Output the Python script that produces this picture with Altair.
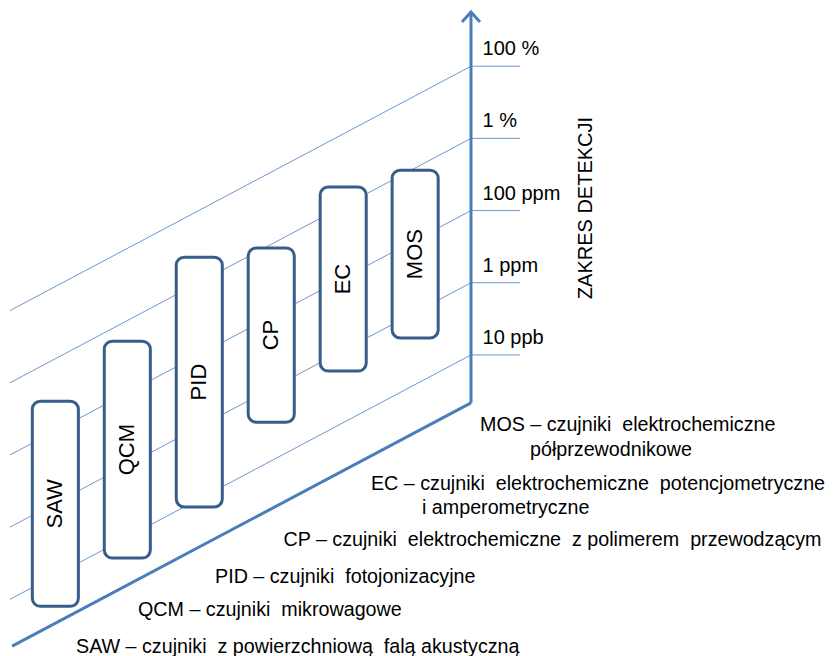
import altair as alt
import pandas as pd

# ---------------- data ----------------
sensors = ["SAW", "QCM", "PID", "CP", "EC", "MOS"]
sensor_order = [0, 1, 2, 3, 4, 5]
# detection range, log10 of volume fraction (10 ppb = -8 ... 100 % = 0)
range_low = [-8.86, -8.58, -8.22, -6.93, -6.57, -6.71]
range_high = [-3.18, -2.57, -1.30, -2.10, -1.47, -2.06]

level_values = [-8, -6, -4, -2, 0]
level_labels = ["10 ppb", "1 ppm", "100 ppm", "1 %", "100 %"]

axis_title = "ZAKRES DETEKCJI"

legend_texts = [
    "MOS – czujniki  elektrochemiczne",
    "półprzewodnikowe",
    "EC – czujniki  elektrochemiczne  potencjometryczne",
    "i amperometryczne",
    "CP – czujniki  elektrochemiczne  z polimerem  przewodzącym",
    "PID – czujniki  fotojonizacyjne",
    "QCM – czujniki  mikrowagowe",
    "SAW – czujniki  z powierzchniową  falą akustyczną",
]
# keep the double spaces visible in SVG
legend_texts = [t.replace("  ", "\u00a0 ") for t in legend_texts]

# ---------------- frame (layout constants) ----------------
X_BACK = 5.776      # depth position of the back wall (vertical axis)
X_FRONT = -0.63     # where the guide lines end at the front
X_FRONT_AXIS = -0.60
SKEW = 1.057        # decades of drop per unit of depth (oblique projection)
FLOOR = -9.33       # level of the floor line
TOP_LINE = 1.446
TOP_TIP = 1.502
TICK_END = 6.457
LABEL_X = 5.936
HALF_W = 0.32

legend_x = [5.901, 6.596, 4.386, 5.095, 3.170, 2.219, 1.149, 0.287]
legend_y = [-9.942, -10.634, -11.576, -12.241, -13.128, -14.153, -15.068, -16.093]

AXIS_BLUE = "#4a7ebb"
GRID_BLUE = "#6d97cf"
BOX_BLUE = "#385d8a"
FONT = "Liberation Sans"

xs = alt.Scale(domain=[-0.658, 10.737], nice=False, zero=False)
ys = alt.Scale(domain=[-16.342, 1.613], nice=False, zero=False)

def X(f):
    return alt.X(f, type="quantitative", scale=xs, axis=None)

def Y(f):
    return alt.Y(f, type="quantitative", scale=ys, axis=None)

levels = pd.DataFrame({"level": level_values, "label": level_labels})
boxes = pd.DataFrame({"sensor": sensors, "idx": sensor_order,
                      "low": range_low, "high": range_high})
legend = pd.DataFrame({"text": legend_texts, "lx": legend_x, "ly": legend_y})
single = pd.DataFrame({"k": [0]})

grid = alt.Chart(levels).transform_calculate(
    xa=f"{X_BACK}", xb=f"{X_FRONT}",
    ya="datum.level", yb=f"datum.level - {SKEW}*({X_BACK}-({X_FRONT}))",
).mark_rule(color=GRID_BLUE, strokeWidth=1).encode(
    x=X("xa:Q"), x2="xb:Q", y=Y("ya:Q"), y2="yb:Q")

ticks = alt.Chart(levels).transform_calculate(
    xa=f"{X_BACK}", xb=f"{TICK_END}",
).mark_rule(color=GRID_BLUE, strokeWidth=1).encode(
    x=X("xa:Q"), x2="xb:Q", y=Y("level:Q"))

tick_labels = alt.Chart(levels).transform_calculate(
    xa=f"{LABEL_X}",
).mark_text(align="left", baseline="middle", dy=-17, fontSize=20,
            font=FONT, color="#000000").encode(
    x=X("xa:Q"), y=Y("level:Q"), text="label:N")

floor_line = alt.Chart(single).transform_calculate(
    xa=f"{X_BACK}", xb=f"{X_FRONT_AXIS}",
    ya=f"{FLOOR}", yb=f"{FLOOR} - {SKEW}*({X_BACK}-({X_FRONT_AXIS}))",
).mark_rule(color=AXIS_BLUE, strokeWidth=3).encode(
    x=X("xa:Q"), x2="xb:Q", y=Y("ya:Q"), y2="yb:Q")

vert_line = alt.Chart(single).transform_calculate(
    xa=f"{X_BACK}", ya=f"{FLOOR}", yb=f"{TOP_LINE}",
).mark_rule(color=AXIS_BLUE, strokeWidth=3).encode(
    x=X("xa:Q"), y=Y("ya:Q"), y2="yb:Q")

arrow = alt.Chart(single).transform_calculate(
    xa=f"{X_BACK}", ya=f"{TOP_TIP}",
).mark_point(shape="M-1,1.1L0,0L1,1.1", filled=False, size=324,
             strokeWidth=3, color=AXIS_BLUE, opacity=1).encode(
    x=X("xa:Q"), y=Y("ya:Q"))

box_base = alt.Chart(boxes).transform_calculate(
    shift=f"{SKEW}*({X_BACK}-datum.idx)",
    xl=f"datum.idx - {HALF_W}", xr=f"datum.idx + {HALF_W}",
).transform_calculate(
    yb="datum.low - datum.shift", yt="datum.high - datum.shift",
).transform_calculate(
    yc="(datum.yb + datum.yt)/2",
)

rects = box_base.mark_rect(fill="white", stroke=BOX_BLUE, strokeWidth=3,
                           cornerRadius=8).encode(
    x=X("xl:Q"), x2="xr:Q", y=Y("yb:Q"), y2="yt:Q")

rect_labels = box_base.mark_text(angle=270, fontSize=22, font=FONT,
                                 color="#000000", baseline="middle",
                                 align="center").encode(
    x=X("idx:Q"), y=Y("yc:Q"), text="sensor:N")

title = alt.Chart(single).transform_calculate(
    xa="7.374", ya="-3.93", t=f"'{axis_title}'",
).mark_text(angle=270, fontSize=20, font=FONT, color="#000000",
            baseline="middle", align="center").encode(
    x=X("xa:Q"), y=Y("ya:Q"), text="t:N")

legend_text = alt.Chart(legend).mark_text(
    align="left", baseline="middle", fontSize=19.7, font=FONT,
    color="#000000").encode(x=X("lx:Q"), y=Y("ly:Q"), text="text:N")

chart = alt.layer(
    grid, ticks, floor_line, vert_line, arrow, rects, rect_labels,
    tick_labels, title, legend_text
).properties(
    width=820, height=648, autosize="none", padding=0,
    background="white"
).configure_view(stroke=None)

chart.save("out.html", embed_options={"renderer": "svg", "actions": False})
